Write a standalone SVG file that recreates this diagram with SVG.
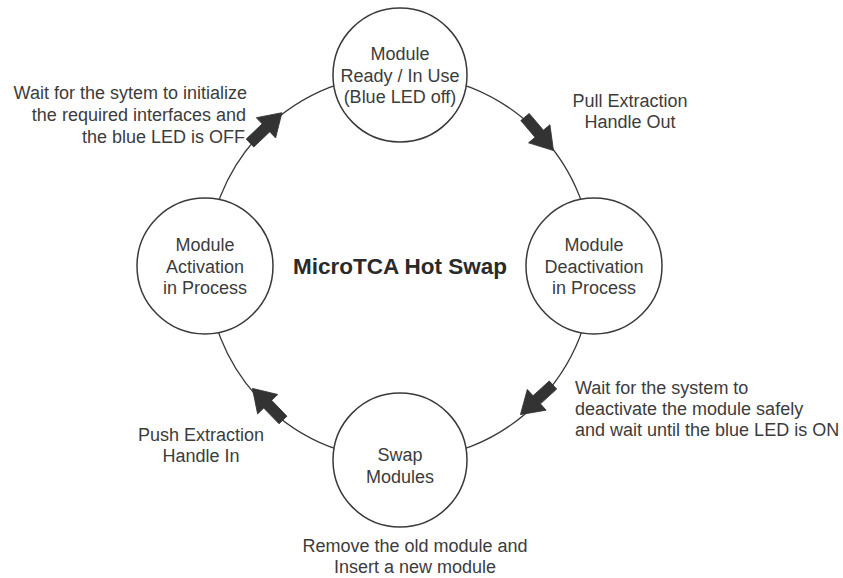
<svg xmlns="http://www.w3.org/2000/svg" width="843" height="578" viewBox="0 0 843 578">
  <defs>
    <style>
      .ring { fill: none; stroke: #3a3a3a; stroke-width: 1.3; }
      .node { fill: #ffffff; stroke: #3a3a3a; stroke-width: 1.5; }
      .arrow { fill: #333333; stroke: #333333; stroke-width: 0.8; stroke-linejoin: miter; }
      text { font-family: "Liberation Sans", Arial, sans-serif; font-size: 18px; fill: #3c3c3c; }
      .c { text-anchor: middle; }
      .r { text-anchor: end; }
      .l { text-anchor: start; }
      .title { font-size: 22.5px; font-weight: bold; fill: #2a2a2a; }
    </style>
    <polygon id="blockArrow" points="0,-5.5 22,-5.5 22,-14 44,0 22,14 22,5.5 0,5.5"/>
  </defs>
  <rect width="843" height="578" fill="#ffffff"/>

  <g id="connectors">
    <circle class="ring" cx="400" cy="267" r="193"/>
    <use href="#blockArrow" class="arrow" transform="translate(250,143) rotate(-43.5)"/>
    <use href="#blockArrow" class="arrow" transform="translate(525,117) rotate(49.7)"/>
    <use href="#blockArrow" class="arrow" transform="translate(553,385) rotate(137.7)"/>
    <use href="#blockArrow" class="arrow" transform="translate(283,420) rotate(-134.1)"/>
  </g>

  <g id="node-ready">
    <circle class="node" cx="400" cy="75" r="67"/>
    <text class="c" x="400" y="60">Module</text>
    <text class="c" x="400" y="81.5">Ready / In Use</text>
    <text class="c" x="400" y="102.5">(Blue LED off)</text>
  </g>

  <g id="node-deactivation">
    <circle class="node" cx="594" cy="266" r="68"/>
    <text class="c" x="594" y="251">Module</text>
    <text class="c" x="594" y="272.5">Deactivation</text>
    <text class="c" x="594" y="294">in Process</text>
  </g>

  <g id="node-swap">
    <circle class="node" cx="400" cy="460" r="67"/>
    <text class="c" x="400" y="461">Swap</text>
    <text class="c" x="400" y="483">Modules</text>
  </g>

  <g id="node-activation">
    <circle class="node" cx="205" cy="266" r="68"/>
    <text class="c" x="205" y="251">Module</text>
    <text class="c" x="205" y="272.5">Activation</text>
    <text class="c" x="205" y="294">in Process</text>
  </g>

  <g id="title">
    <text class="c title" x="400" y="274">MicroTCA Hot Swap</text>
  </g>

  <g id="labels">
    <text class="r" x="247" y="99">Wait for the sytem to initialize</text>
    <text class="r" x="246" y="121">the required interfaces and</text>
    <text class="r" x="245" y="143">the blue LED is OFF</text>

    <text class="c" x="630" y="107">Pull Extraction</text>
    <text class="c" x="630" y="128">Handle Out</text>

    <text class="l" x="575" y="394">Wait for the system to</text>
    <text class="l" x="575" y="415">deactivate the module safely</text>
    <text class="l" x="575" y="436">and wait until the blue LED is ON</text>

    <text class="c" x="201" y="441">Push Extraction</text>
    <text class="c" x="201" y="462">Handle In</text>

    <text class="c" x="415" y="552">Remove the old module and</text>
    <text class="c" x="415" y="573">Insert a new module</text>
  </g>
</svg>
